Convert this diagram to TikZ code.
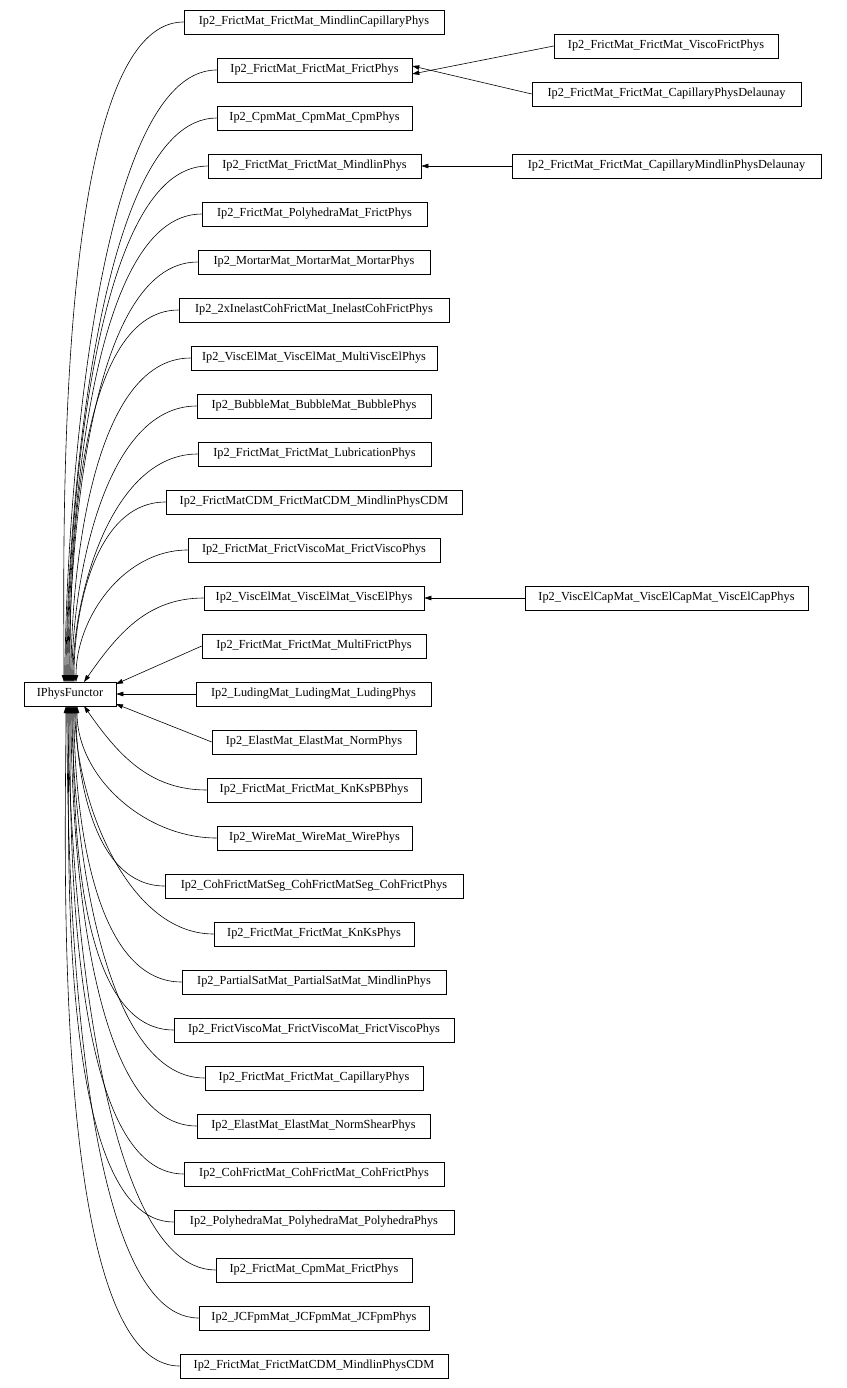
\documentclass[tikz,border=0pt]{standalone}
\usepackage{fontspec}
\setmainfont{Liberation Serif}
\usetikzlibrary{arrows.meta}
\begin{document}
\begin{tikzpicture}[x=1pt,y=-1pt,
  box/.style={draw,line width=0.6pt,inner sep=0pt,minimum height=24pt,font=\fontsize{12.3}{13}\selectfont},
  arr/.style={line width=0.6pt,-{Triangle[length=7pt,width=4.5pt]}}]
\useasboundingbox (0,0) rectangle (846,1388);
\newcommand\bx[5]{\node[box,minimum width={#3-#2}] (#1) at ({(#2+#3)/2},#4) {#5};}
\bx{ip}{24}{116}{694}{IPhysFunctor}
\bx{a1}{184}{444}{22}{Ip2\_FrictMat\_FrictMat\_MindlinCapillaryPhys}
\bx{a2}{217}{412}{70}{Ip2\_FrictMat\_FrictMat\_FrictPhys}
\bx{a3}{217}{412}{118}{Ip2\_CpmMat\_CpmMat\_CpmPhys}
\bx{a4}{208}{421}{166}{Ip2\_FrictMat\_FrictMat\_MindlinPhys}
\bx{a5}{202}{427}{214}{Ip2\_FrictMat\_PolyhedraMat\_FrictPhys}
\bx{a6}{198}{430}{262}{Ip2\_MortarMat\_MortarMat\_MortarPhys}
\bx{a7}{179}{449}{310}{Ip2\_2xInelastCohFrictMat\_InelastCohFrictPhys}
\bx{a8}{191}{437}{358}{Ip2\_ViscElMat\_ViscElMat\_MultiViscElPhys}
\bx{a9}{197}{431}{406}{Ip2\_BubbleMat\_BubbleMat\_BubblePhys}
\bx{a10}{198}{431}{454}{Ip2\_FrictMat\_FrictMat\_LubricationPhys}
\bx{a11}{166}{462}{502}{Ip2\_FrictMatCDM\_FrictMatCDM\_MindlinPhysCDM}
\bx{a12}{188}{440}{550}{Ip2\_FrictMat\_FrictViscoMat\_FrictViscoPhys}
\bx{a13}{204}{424}{598}{Ip2\_ViscElMat\_ViscElMat\_ViscElPhys}
\bx{a14}{202}{426}{646}{Ip2\_FrictMat\_FrictMat\_MultiFrictPhys}
\bx{a15}{196}{431}{694}{Ip2\_LudingMat\_LudingMat\_LudingPhys}
\bx{a16}{212}{416}{742}{Ip2\_ElastMat\_ElastMat\_NormPhys}
\bx{a17}{207}{421}{790}{Ip2\_FrictMat\_FrictMat\_KnKsPBPhys}
\bx{a18}{217}{412}{838}{Ip2\_WireMat\_WireMat\_WirePhys}
\bx{a19}{165}{463}{886}{Ip2\_CohFrictMatSeg\_CohFrictMatSeg\_CohFrictPhys}
\bx{a20}{214}{414}{934}{Ip2\_FrictMat\_FrictMat\_KnKsPhys}
\bx{a21}{182}{446}{982}{Ip2\_PartialSatMat\_PartialSatMat\_MindlinPhys}
\bx{a22}{174}{454}{1030}{Ip2\_FrictViscoMat\_FrictViscoMat\_FrictViscoPhys}
\bx{a23}{205}{423}{1078}{Ip2\_FrictMat\_FrictMat\_CapillaryPhys}
\bx{a24}{197}{430}{1126}{Ip2\_ElastMat\_ElastMat\_NormShearPhys}
\bx{a25}{184}{444}{1174}{Ip2\_CohFrictMat\_CohFrictMat\_CohFrictPhys}
\bx{a26}{174}{454}{1222}{Ip2\_PolyhedraMat\_PolyhedraMat\_PolyhedraPhys}
\bx{a27}{216}{412}{1270}{Ip2\_FrictMat\_CpmMat\_FrictPhys}
\bx{a28}{199}{429}{1318}{Ip2\_JCFpmMat\_JCFpmMat\_JCFpmPhys}
\bx{a29}{180}{448}{1366}{Ip2\_FrictMat\_FrictMatCDM\_MindlinPhysCDM}
\bx{r1}{554}{778}{46}{Ip2\_FrictMat\_FrictMat\_ViscoFrictPhys}
\bx{r2}{532}{801}{94}{Ip2\_FrictMat\_FrictMat\_CapillaryPhysDelaunay}
\bx{r3}{512}{821}{166}{Ip2\_FrictMat\_FrictMat\_CapillaryMindlinPhysDelaunay}
\bx{r4}{525}{808}{598}{Ip2\_ViscElCapMat\_ViscElCapMat\_ViscElCapPhys}
\foreach \n/\x/\l in {a1/64/0.5,a2/65/0.52,a3/66/0.55,a4/67/0.58,a5/68/0.62,a6/69/0.66,a7/70/0.7,a8/71/0.75,a9/72/0.8,a10/73/0.85,a11/74/0.9,a12/76/0.95}
  \draw[arr] (\n.west) to[out=180,in=90,looseness=\l] (\x,682);
\draw[arr] (a13.west) to[out=180,in=55] (84,682);
\draw[arr] (a14.west) -- (116,684);
\draw[arr] (a15.west) -- (ip.east);
\draw[arr] (a16.west) -- (116,704);
\draw[arr] (a17.west) to[out=180,in=-55] (84,706);
\foreach \n/\x/\l in {a18/77/0.95,a19/76/0.9,a20/75/0.85,a21/74/0.8,a22/73/0.75,a23/72/0.7,a24/71/0.66,a25/70/0.62,a26/69/0.58,a27/68/0.55,a28/67/0.52,a29/66/0.5}
  \draw[arr] (\n.west) to[out=180,in=-90,looseness=\l] (\x,706);
\draw[arr] (r1.west) -- ([yshift=-4pt]a2.east);
\draw[arr] (r2.west) -- ([yshift=4pt]a2.east);
\draw[arr] (r3.west) -- (a4.east);
\draw[arr] (r4.west) -- (a13.east);
\end{tikzpicture}
\end{document}
